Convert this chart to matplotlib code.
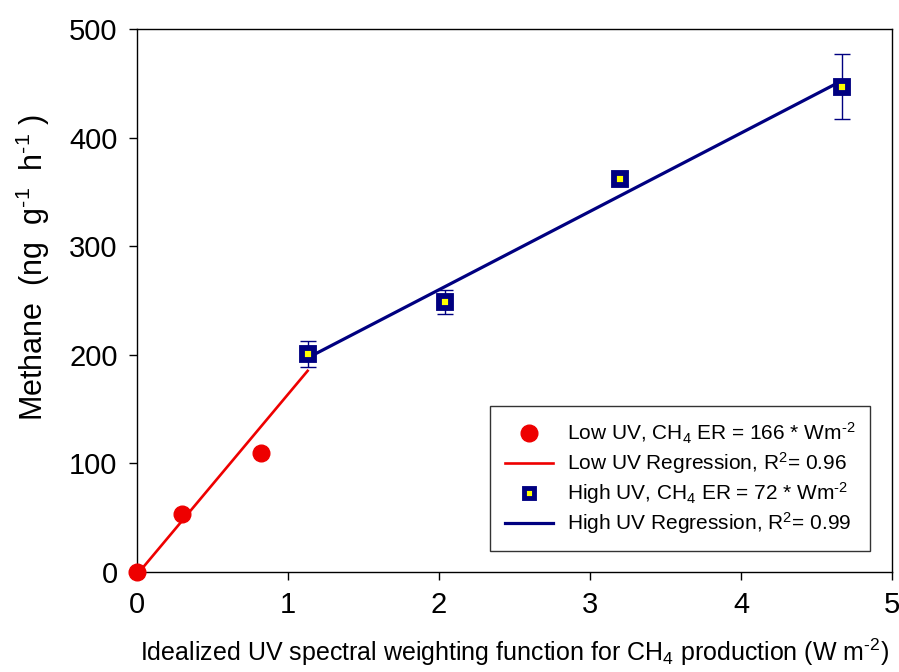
import numpy as np
import matplotlib
matplotlib.use("Agg")
import matplotlib.pyplot as plt

plt.rcParams['font.family'] = ['Liberation Sans', 'DejaVu Sans']
plt.rcParams['mathtext.fontset'] = 'custom'
plt.rcParams['mathtext.rm'] = 'Liberation Sans'
plt.rcParams['mathtext.it'] = 'Liberation Sans:italic'
plt.rcParams['mathtext.bf'] = 'Liberation Sans:bold'
plt.rcParams['axes.unicode_minus'] = False

# Data
low_x = [0.0, 0.30, 0.82]
low_y = [0.0, 53.0, 110.0]
high_x = [1.13, 2.04, 3.20, 4.67]
high_y = [201.0, 249.0, 362.0, 447.0]
high_err = [12.0, 11.0, 6.0, 30.0]
xticks = [0, 1, 2, 3, 4, 5]
yticks = [0, 100, 200, 300, 400, 500]

navy = '#000080'
red = '#ee0000'
HY = '\u2010'  # hyphen used in superscripts

fig = plt.figure(figsize=(8.99, 6.72), dpi=100)
ax = fig.add_axes([0.1524, 0.1488, 0.8398, 0.808])

# Low UV regression (fit includes the shared point at the transition)
lx_fit = np.array(low_x + [high_x[0]])
ly_fit = np.array(low_y + [high_y[0]])
s1, b1 = np.polyfit(lx_fit, ly_fit, 1)
xl = np.array([0.0, high_x[0]])
ax.plot(xl, s1 * xl + b1, color=red, lw=1.9, zorder=2,
        label='Low UV Regression, R$^{2}$= 0.96')

s2, b2 = np.polyfit(high_x, high_y, 1)
xh = np.array([high_x[0], high_x[-1]])
ax.plot(xh, s2 * xh + b2, color=navy, lw=2.3, zorder=2,
        label='High UV Regression, R$^{2}$= 0.99')

ax.plot(low_x, low_y, 'o', color=red, ms=12, mec=red, zorder=4, clip_on=False,
        label='Low UV, CH$_{4}$ ER = 166 * Wm$^{' + HY + '2}$')

ax.errorbar(high_x, high_y, yerr=high_err, fmt='none', ecolor=navy, elinewidth=1,
            capsize=6, capthick=1, zorder=3)
ax.plot(high_x, high_y, 's', color='#ffff00', ms=8, mec=navy, mew=4.2, zorder=5,
        solid_joinstyle='round',
        label='High UV, CH$_{4}$ ER = 72 * Wm$^{' + HY + '2}$')

ax.set_xlim(0, 5)
ax.set_ylim(0, 500)
ax.set_xticks(xticks)
ax.set_yticks(yticks)
ax.tick_params(direction='out', length=6, width=1, labelsize=21, pad=8)
for sp in ax.spines.values():
    sp.set_linewidth(1)

ax.set_xlabel('Idealized UV spectral weighting function for CH$_{4}$ production (W m$^{' + HY + '2}$)',
              fontsize=18, labelpad=12)
ax.set_ylabel('Methane  (ng  g$^{' + HY + '1}$  h$^{' + HY + '1}$ )', fontsize=22)
ax.yaxis.set_label_coords(-0.113, 0.56)

h, l = ax.get_legend_handles_labels()
order = [2, 0, 3, 1]
leg = ax.legend([h[i] for i in order], [l[i] for i in order], loc='lower right',
                bbox_to_anchor=(0.985, 0.02), fontsize=15, frameon=True, fancybox=False,
                edgecolor='black', handlelength=2.3, labelspacing=0.2, borderpad=0.7,
                handletextpad=0.7)
leg.get_frame().set_linewidth(1)
for lh in leg.legend_handles:
    try:
        if lh.get_marker() == 'o':
            lh.set_markersize(12)
        elif lh.get_marker() == 's':
            lh.set_markersize(6.5); lh.set_markeredgewidth(3.5)
    except Exception:
        pass

fig.savefig('out.png', dpi=100)
